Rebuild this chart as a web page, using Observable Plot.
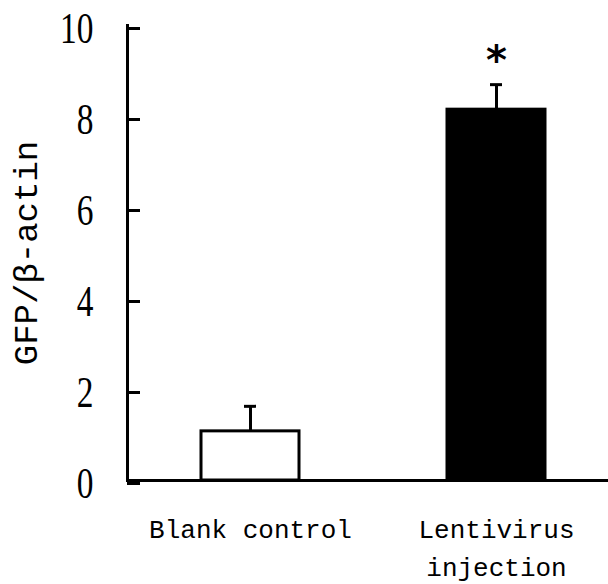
<!DOCTYPE html>
<html>
<head>
<meta charset="utf-8">
<script src="https://cdn.jsdelivr.net/npm/d3@7"></script>
<script src="https://cdn.jsdelivr.net/npm/@observablehq/plot@0.6"></script>
<style>
  html, body { margin: 0; padding: 0; background: #fff; }
  #chart svg { display: block; }
</style>
</head>
<body>
<div id="chart"></div>
<script>
const categories = ["Blank control", "Lentivirus injection"];
const categoryLabels = ["Blank control", "Lentivirus\ninjection"];
const means = [1.08, 8.15];
const errors = [0.55, 0.55];
const barFills = ["white", "black"];
const significance = ["", "*"];
const yTicks = [0, 2, 4, 6, 8, 10];
const yLabel = "GFP/β-actin";

const data = categories.map((c, i) => ({
  cat: c,
  label: categoryLabels[i],
  mean: means[i],
  top: means[i] + errors[i],
  fill: barFills[i],
  sig: significance[i]
}));

const chart = Plot.plot({
  width: 608,
  height: 584,
  marginLeft: 127,
  marginRight: 0,
  marginTop: 25,
  marginBottom: 104,
  style: { background: "white", color: "black" },
  x: { domain: categories, range: [126.25, 619.25], paddingInner: 0.6024, paddingOuter: 0.3012, axis: null },
  y: { domain: [0, 10], ticks: yTicks, axis: null },
  color: { type: "identity" },
  marks: [
    Plot.barY(data, { x: "cat", y: "mean", fill: "fill", stroke: "black", strokeWidth: 3 }),
    Plot.ruleX(data, { x: "cat", y1: "mean", y2: "top", stroke: "black", strokeWidth: 3 }),
    Plot.tickY(data, { x: "cat", y: "top", stroke: "black", strokeWidth: 3, insetLeft: 43, insetRight: 43 }),
    Plot.text(data.filter(d => d.sig), { x: "cat", y: "top", text: "sig", lineAnchor: "bottom", dy: -11, fontSize: 40, fontWeight: "bold", fontFamily: "DejaVu Sans", fill: "black" }),
    Plot.axisY({ ticks: yTicks, tickSize: -13, tickPadding: 47, strokeWidth: 3, fontSize: 44, fontFamily: "Liberation Serif", dy: 3, tickFormat: d => String(d), label: null }),
    Plot.frame({ anchor: "left", strokeWidth: 3 }),
    Plot.frame({ anchor: "bottom", strokeWidth: 3 }),
    Plot.text(data, { x: "cat", text: "label", frameAnchor: "bottom", lineAnchor: "top", dy: 30.5, lineHeight: 1.46, fontSize: 26, fontFamily: "Liberation Mono", fill: "black" }),
    Plot.text([yLabel], { text: d => d, frameAnchor: "left", textAnchor: "middle", rotate: -90, dx: -101, fontSize: 34, fontFamily: "Liberation Mono", fill: "black" })
  ]
});

document.getElementById("chart").appendChild(chart);

// condense the serif tick labels horizontally, as in the reference
d3.select(chart).selectAll('[aria-label="y-axis tick label"] text').each(function () {
  const t = d3.select(this).attr("transform") || "";
  d3.select(this).attr("transform", t + " scale(0.76,1)");
});
</script>
</body>
</html>
